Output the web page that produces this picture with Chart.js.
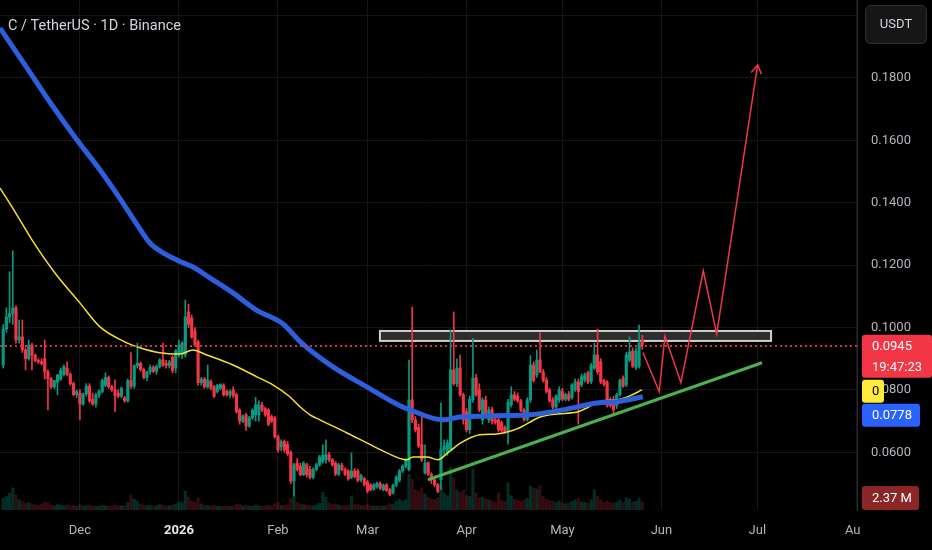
<!DOCTYPE html>
<html>
<head>
<meta charset="utf-8">
<title>C / TetherUS · 1D · Binance</title>
<script src="https://cdn.jsdelivr.net/npm/chart.js@4.4.1/dist/chart.umd.min.js"></script>
<style>
  html, body { margin: 0; padding: 0; background: #000; }
  #wrap { width: 932px; height: 550px; }
</style>
</head>
<body>
<div id="wrap"><canvas id="priceChart" width="932" height="550"></canvas></div>
<script>
// x values are days counted from 1 Dec 2025; first candle is 7 Nov 2025
const firstDay = -24;

const opens = [
  .0880, .0995, .1034, .1045, .1063, .0960, .0970, .0928, .0900, .0944,
  .0912, .0894, .0890, .0900, .0858, .0835, .0810, .0825, .0835, .0850,
  .0870, .0850, .0820, .0785, .0790, .0755, .0787, .0812, .0770, .0755,
  .0784, .0795, .0815, .0840, .0810, .0800, .0790, .0780, .0775, .0765,
  .0830, .0812, .0878, .0885, .0865, .0840, .0858, .0872, .0860, .0875,
  .0896, .0885, .0878, .0905, .0870, .0912, .0915, .0912, .1050, .1030,
  .0990, .0954, .0823, .0835, .0810, .0826, .0810, .0795, .0805, .0815,
  .0795, .0784, .0800, .0785, .0735, .0700, .0720, .0684, .0710, .0720,
  .0720, .0752, .0740, .0736, .0715, .0710, .0650, .0618, .0634, .0625,
  .0600, .0508, .0565, .0556, .0528, .0560, .0545, .0520, .0545, .0560,
  .0570, .0576, .0592, .0576, .0565, .0530, .0558, .0545, .0540, .0520,
  .0540, .0540, .0512, .0515, .0505, .0495, .0482, .0490, .0500, .0480,
  .0495, .0480, .0470, .0495, .0510, .0540, .0555, .0545, .0768, .0704,
  .0680, .0625, .0534, .0566, .0530, .0512, .0496, .0512, .0608, .0600,
  .0610, .0864, .0820, .0870, .0784, .0730, .0672, .0768, .0838, .0800,
  .0704, .0768, .0704, .0736, .0704, .0704, .0695, .0680, .0664, .0752,
  .0784, .0780, .0765, .0735, .0705, .0768, .0880, .0848, .0896, .0858,
  .0832, .0800, .0768, .0745, .0768, .0795, .0770, .0785, .0775, .0800,
  .0826, .0816, .0832, .0855, .0826, .0870, .0912, .0890, .0830, .0825,
  .0768, .0770, .0750, .0785, .0838, .0816, .0896, .0925, .0872, .0876,
  .0960
];
const highs = [
  .1010, .1063, .1179, .1246, .1070, .1024, .1024, .0935, .0960, .0950,
  .0915, .0900, .0900, .0960, .0865, .0840, .0830, .0850, .0870, .0880,
  .0890, .0855, .0825, .0800, .0800, .0790, .0820, .0820, .0790, .0790,
  .0800, .0835, .0855, .0845, .0815, .0832, .0800, .0810, .0780, .0835,
  .0920, .0880, .0950, .0890, .0870, .0860, .0880, .0878, .0880, .0900,
  .0950, .0895, .0895, .0910, .0930, .0960, .0955, .1088, .1075, .1040,
  .1000, .0960, .0840, .0840, .0880, .0832, .0815, .0818, .0820, .0820,
  .0800, .0800, .0810, .0790, .0740, .0720, .0725, .0715, .0740, .0776,
  .0765, .0760, .0745, .0740, .0720, .0715, .0655, .0640, .0640, .0635,
  .0605, .0565, .0580, .0565, .0570, .0565, .0555, .0550, .0565, .0590,
  .0624, .0640, .0600, .0580, .0570, .0565, .0565, .0550, .0545, .0598,
  .0548, .0545, .0530, .0520, .0510, .0500, .0500, .0505, .0505, .0498,
  .0500, .0485, .0498, .0525, .0545, .0560, .0580, .0896, .1066, .0715,
  .0690, .0720, .0624, .0570, .0535, .0520, .0500, .0758, .0640, .0640,
  .0992, .1050, .0900, .0912, .0790, .0740, .0780, .0965, .0850, .0820,
  .0775, .0780, .0745, .0745, .0710, .0712, .0700, .0685, .0770, .0810,
  .0795, .0790, .0770, .0740, .0775, .0910, .0890, .0928, .0983, .0865,
  .0840, .0805, .0775, .0785, .0810, .0805, .0790, .0795, .0820, .0835,
  .0835, .0850, .0855, .0860, .0885, .0950, .0995, .0900, .0835, .0830,
  .0775, .0780, .0790, .0835, .0845, .0920, .0970, .0935, .0935, .1008,
  .0975
];
const lows = [
  .0870, .0985, .1015, .1010, .0950, .0950, .0920, .0864, .0895, .0864,
  .0890, .0885, .0880, .0835, .0736, .0805, .0805, .0784, .0830, .0845,
  .0845, .0815, .0780, .0775, .0704, .0750, .0780, .0760, .0750, .0745,
  .0775, .0790, .0810, .0805, .0795, .0730, .0775, .0775, .0760, .0760,
  .0805, .0805, .0870, .0860, .0835, .0830, .0850, .0855, .0850, .0870,
  .0875, .0870, .0870, .0855, .0855, .0905, .0900, .0905, .1000, .0965,
  .0940, .0815, .0815, .0805, .0805, .0800, .0775, .0790, .0800, .0780,
  .0780, .0775, .0775, .0725, .0690, .0695, .0670, .0680, .0705, .0700,
  .0700, .0730, .0715, .0685, .0695, .0645, .0600, .0605, .0600, .0590,
  .0500, .0460, .0540, .0525, .0525, .0520, .0515, .0515, .0540, .0555,
  .0565, .0565, .0570, .0555, .0525, .0525, .0540, .0525, .0510, .0515,
  .0518, .0505, .0505, .0492, .0470, .0476, .0478, .0485, .0480, .0476,
  .0474, .0460, .0466, .0490, .0505, .0535, .0550, .0540, .0695, .0665,
  .0615, .0570, .0530, .0525, .0500, .0490, .0470, .0480, .0590, .0590,
  .0605, .0815, .0810, .0780, .0690, .0665, .0660, .0760, .0780, .0730,
  .0690, .0710, .0695, .0690, .0690, .0665, .0665, .0660, .0626, .0745,
  .0765, .0760, .0730, .0700, .0700, .0760, .0825, .0840, .0855, .0825,
  .0790, .0760, .0740, .0740, .0760, .0765, .0765, .0765, .0770, .0795,
  .0690, .0810, .0825, .0820, .0820, .0865, .0850, .0820, .0812, .0745,
  .0745, .0720, .0740, .0780, .0808, .0810, .0890, .0872, .0865, .0870,
  .0930
];
const closes = [
  .0995, .1034, .1045, .1063, .0960, .0970, .0928, .0900, .0944, .0912,
  .0894, .0890, .0885, .0858, .0835, .0810, .0830, .0848, .0862, .0875,
  .0850, .0820, .0785, .0795, .0755, .0787, .0812, .0765, .0755, .0784,
  .0795, .0830, .0840, .0810, .0800, .0782, .0780, .0805, .0765, .0830,
  .0812, .0878, .0885, .0865, .0840, .0858, .0872, .0860, .0875, .0896,
  .0880, .0878, .0890, .0862, .0925, .0944, .0950, .1034, .1010, .0970,
  .0944, .0823, .0835, .0810, .0832, .0806, .0780, .0815, .0818, .0785,
  .0784, .0795, .0782, .0730, .0700, .0716, .0684, .0710, .0735, .0752,
  .0752, .0736, .0720, .0690, .0700, .0650, .0608, .0634, .0608, .0595,
  .0508, .0560, .0545, .0528, .0565, .0528, .0520, .0545, .0560, .0585,
  .0590, .0592, .0576, .0560, .0530, .0560, .0545, .0530, .0515, .0540,
  .0522, .0510, .0526, .0497, .0475, .0480, .0496, .0500, .0485, .0495,
  .0478, .0465, .0495, .0520, .0540, .0555, .0575, .0768, .0704, .0672,
  .0620, .0576, .0566, .0530, .0512, .0496, .0475, .0608, .0620, .0630,
  .0864, .0820, .0870, .0784, .0704, .0672, .0770, .0838, .0785, .0736,
  .0768, .0715, .0736, .0700, .0695, .0672, .0670, .0664, .0760, .0784,
  .0770, .0765, .0735, .0705, .0768, .0880, .0830, .0896, .0858, .0830,
  .0795, .0765, .0745, .0780, .0800, .0770, .0785, .0770, .0816, .0826,
  .0795, .0842, .0848, .0826, .0878, .0912, .0858, .0826, .0818, .0750,
  .0750, .0736, .0785, .0830, .0812, .0912, .0922, .0876, .0925, .0950,
  .0945
];
// volume in millions
const volumes = [
  3.5, 4.0, 5.0, 6.5, 4.5, 3.0, 2.5, 2.0, 2.2, 1.8,
  1.5, 1.4, 1.6, 2.4, 2.2, 1.5, 1.2, 1.6, 1.4, 1.3,
  1.5, 1.2, 1.4, 1.1, 1.6, 1.2, 1.3, 1.5, 1.2, 1.1,
  1.2, 1.4, 1.3, 1.2, 1.1, 1.5, 1.2, 1.3, 1.2, 2.2,
  4.5, 3.2, 2.6, 1.8, 1.5, 1.3, 1.4, 1.2, 1.3, 1.6,
  1.4, 1.2, 1.3, 1.5, 1.8, 2.4, 2.2, 5.5, 3.8, 2.6,
  2.2, 3.5, 1.8, 1.4, 1.3, 1.2, 1.4, 1.1, 1.0, 1.2,
  1.1, 1.0, 1.2, 1.8, 1.6, 1.2, 1.4, 1.2, 1.1, 1.5,
  1.3, 1.1, 1.2, 1.4, 1.2, 1.8, 2.2, 1.4, 1.5, 1.6,
  3.5, 4.2, 2.2, 1.8, 1.6, 1.5, 1.4, 1.3, 1.5, 2.0,
  5.2, 3.8, 2.0, 1.6, 1.8, 1.5, 1.3, 1.2, 1.5, 4.0,
  1.8, 1.6, 1.3, 1.4, 1.8, 1.3, 1.2, 1.1, 1.3, 1.2,
  1.4, 1.8, 1.6, 2.5, 3.2, 2.6, 3.0, 10.5, 9.0, 6.0,
  5.5, 6.5, 4.8, 3.8, 3.2, 3.0, 3.6, 8.0, 5.0, 4.2,
  12.5, 9.5, 6.0, 5.2, 5.8, 4.2, 4.0, 12.0, 5.0, 3.5,
  3.8, 3.2, 3.0, 2.6, 2.2, 5.0, 2.8, 2.5, 8.0, 4.2,
  3.2, 2.8, 2.6, 3.0, 3.4, 7.0, 6.5, 6.2, 7.2, 4.0,
  3.2, 2.8, 2.5, 2.2, 2.6, 2.0, 1.8, 2.2, 2.6, 3.0,
  3.4, 2.4, 2.2, 2.0, 3.0, 6.0, 4.0, 3.0, 2.2, 2.6,
  2.2, 2.0, 2.4, 3.0, 2.2, 3.6, 3.2, 2.4, 2.6, 3.4,
  2.37
];

// moving averages as [day, price]
const slowMa = [
  [-25.0, .1960], [-17.2, .1842], [-9.4, .1723], [-1.6, .1611], [6.3, .1505],
  [12.5, .1414], [18.0, .1328], [22.0, .1270], [26.6, .1236], [31.3, .1212],
  [35.4, .1194], [40.7, .1159], [47.9, .1111], [55.4, .1055], [63.5, .1012],
  [68.9, .0955], [79.2, .0874], [89.8, .0810], [100.2, .0749], [103.3, .0736],
  [113.6, .0704], [118.9, .0713], [130.5, .0717], [140.8, .0720], [151.2, .0736],
  [161.8, .0758], [168.1, .0762], [176.2, .0778]
];
const fastMa = [
  [-25.0, .1447], [-20.3, .1371], [-15.0, .1281], [-7.8, .1175], [0, .1079],
  [6.3, .1002], [14.7, .0951], [18.8, .0935], [25.0, .0919], [31.3, .0915],
  [35.4, .0928], [39.7, .0912], [47.9, .0880], [55.4, .0842], [60.4, .0816],
  [65.7, .0778], [68.9, .0746], [72.0, .0720], [75.1, .0704], [83.6, .0662],
  [89.8, .0630], [96.1, .0598], [102.3, .0576], [104.2, .0585], [108.6, .0585],
  [112.0, .0576], [115.1, .0598], [119.2, .0630], [125.2, .0656], [130.5, .0659],
  [136.8, .0675], [144.0, .0713], [149.3, .0723], [155.6, .0729], [160.6, .0752],
  [163.7, .0765], [168.1, .0768], [172.1, .0781], [175.9, .0800]
];

// drawings
const trendLine = [[108.9, .0512], [213.5, .0887]];
const projection = [
  [176.2, .0920], [181.3, .0795], [183.1, .0973], [188.1, .0823],
  [195.1, .1182], [199.3, .0979], [212.1, .1842]
];
const zoneDays = [93.9, 216.3];
const zonePrices = [.0957, .0989];

// axes
const monthDays = [0, 31, 62, 90, 121, 151, 182, 212, 243];
const monthLabels = ['Dec', '2026', 'Feb', 'Mar', 'Apr', 'May', 'Jun', 'Jul', 'Aug'];
const priceTicks = [.06, .08, .10, .12, .14, .16, .18, .20];

const title = 'C / TetherUS · 1D · Binance';
const currency = 'USDT';
const countdown = '19:47:23';
const fastLabel = '0';

const UP = '#089981';
const DOWN = '#f23645';

const candleColors = closes.map((c, i) => (c >= opens[i] ? UP : DOWN));
const volumeColors = closes.map((c, i) =>
  c >= opens[i] ? 'rgba(8,153,129,0.30)' : 'rgba(242,54,69,0.22)'
);
const toPoints = (arr) => arr.map((p) => ({ x: p[0], y: p[1] }));

function badge(ctx, x, y, w, h, color, lines, textColor) {
  ctx.fillStyle = color;
  ctx.beginPath();
  ctx.roundRect(x, y, w, h, 3);
  ctx.fill();
  ctx.fillStyle = textColor;
  ctx.textBaseline = 'middle';
  ctx.textAlign = 'left';
  const step = h / lines.length;
  lines.forEach((t, i) => ctx.fillText(t, x + 10, y + step * i + step / 2 + 1));
}

const overlay = {
  id: 'overlay',
  beforeDatasetsDraw(chart) {
    const { ctx, scales: { x, y } } = chart;
    const x0 = x.getPixelForValue(zoneDays[0]);
    const x1 = x.getPixelForValue(zoneDays[1]);
    const y0 = y.getPixelForValue(zonePrices[1]);
    const y1 = y.getPixelForValue(zonePrices[0]);
    ctx.save();
    ctx.fillStyle = '#2e2e2e';
    ctx.fillRect(x0, y0, x1 - x0, y1 - y0);
    ctx.strokeStyle = '#cfcfcf';
    ctx.lineWidth = 2;
    ctx.strokeRect(x0, y0, x1 - x0, y1 - y0);
    ctx.restore();
  },
  afterDatasetsDraw(chart) {
    const { ctx, chartArea: a, scales: { x, y } } = chart;
    const last = closes[closes.length - 1];
    ctx.save();
    // last price line
    const py = Math.round(y.getPixelForValue(last));
    ctx.fillStyle = '#d8323f';
    for (let px = a.left; px < a.right; px += 5) {
      ctx.fillRect(px, py, 2, 2);
    }
    // arrow head on projection
    const p1 = projection[projection.length - 2];
    const p2 = projection[projection.length - 1];
    const ax = x.getPixelForValue(p2[0]), ay = y.getPixelForValue(p2[1]);
    const bx = x.getPixelForValue(p1[0]), by = y.getPixelForValue(p1[1]);
    const ang = Math.atan2(ay - by, ax - bx);
    ctx.strokeStyle = DOWN;
    ctx.lineWidth = 1.5;
    ctx.beginPath();
    ctx.moveTo(ax - 10 * Math.cos(ang - 0.55), ay - 10 * Math.sin(ang - 0.55));
    ctx.lineTo(ax, ay);
    ctx.lineTo(ax - 10 * Math.cos(ang + 0.55), ay - 10 * Math.sin(ang + 0.55));
    ctx.stroke();
    ctx.restore();
  },
  afterDraw(chart) {
    const { ctx, chartArea: a, scales: { y } } = chart;
    ctx.save();
    // clip the last month label at the price scale
    ctx.fillStyle = '#000';
    ctx.fillRect(a.right + 3, a.bottom + 1, chart.width - a.right, chart.height - a.bottom);

    ctx.font = '14.5px Roboto';
    ctx.fillStyle = '#d1d4dc';
    ctx.textBaseline = 'alphabetic';
    ctx.fillText(title, 8, 30);

    // currency box
    ctx.fillStyle = '#161616';
    ctx.strokeStyle = '#2e2e2e';
    ctx.lineWidth = 1;
    ctx.beginPath();
    ctx.roundRect(a.right + 8.5, 5.5, 61, 38, 5);
    ctx.fill();
    ctx.stroke();
    ctx.font = '13px Roboto';
    ctx.fillStyle = '#d1d4dc';
    ctx.textAlign = 'center';
    ctx.textBaseline = 'middle';
    ctx.fillText(currency, a.right + 39, 25);

    // price scale labels
    ctx.font = '13px Roboto';
    const bx = a.right + 5;
    const last = closes[closes.length - 1];
    const redTop = y.getPixelForValue(last) - 10;
    badge(ctx, bx, redTop, chart.width - bx, 43, DOWN, [last.toFixed(4), countdown], '#ffffff');
    badge(ctx, bx, redTop + 45, 22, 23, '#ffeb3b', [fastLabel], '#000000');
    const slowLast = slowMa[slowMa.length - 1][1];
    badge(ctx, bx, redTop + 69, 58, 23, '#2962ff', [slowLast.toFixed(4)], '#ffffff');
    const vol = volumes[volumes.length - 1];
    badge(ctx, bx, a.bottom - 24, 57, 24, '#8c2626', [vol.toFixed(2) + ' M'], '#ffffff');
    ctx.restore();
  }
};

new Chart(document.getElementById('priceChart'), {
  type: 'bar',
  data: {
    datasets: [
      {
        label: 'Volume',
        yAxisID: 'yv',
        data: volumes.map((v, i) => ({ x: firstDay + i, y: v })),
        backgroundColor: volumeColors,
        barThickness: 2.4,
        grouped: false,
        order: 6
      },
      {
        label: 'Wicks',
        data: highs.map((h, i) => ({ x: firstDay + i, y: [lows[i], h] })),
        backgroundColor: candleColors,
        barThickness: 1,
        grouped: false,
        order: 5
      },
      {
        label: 'Bodies',
        data: opens.map((o, i) => ({ x: firstDay + i, y: [o, closes[i]] })),
        backgroundColor: candleColors,
        barThickness: 2.5,
        minBarLength: 1,
        grouped: false,
        order: 4
      },
      {
        type: 'line',
        label: 'MA fast',
        data: toPoints(fastMa),
        borderColor: '#f5e12e',
        borderWidth: 1.5,
        pointRadius: 0,
        cubicInterpolationMode: 'monotone',
        order: 3
      },
      {
        type: 'line',
        label: 'MA slow',
        data: toPoints(slowMa),
        borderColor: '#2d5fdc',
        borderWidth: 5,
        pointRadius: 0,
        cubicInterpolationMode: 'monotone',
        order: 2
      },
      {
        type: 'line',
        label: 'Trend',
        data: toPoints(trendLine),
        borderColor: '#4caf50',
        borderWidth: 3,
        pointRadius: 0,
        order: 1
      },
      {
        type: 'line',
        label: 'Projection',
        data: toPoints(projection),
        borderColor: DOWN,
        borderWidth: 1.5,
        pointRadius: 0,
        order: 0
      }
    ]
  },
  options: {
    responsive: false,
    animation: false,
    events: [],
    layout: { padding: 0 },
    plugins: {
      legend: { display: false },
      tooltip: { enabled: false }
    },
    scales: {
      x: {
        type: 'linear',
        min: -25,
        max: 243.2,
        offset: false,
        afterBuildTicks: (s) => { s.ticks = monthDays.map((v) => ({ value: v })); },
        afterFit: (s) => {
          s.height = 40;
          s.paddingLeft = 0;
          s.paddingRight = 0;
        },
        grid: { color: '#161616', drawTicks: false, offset: false },
        border: { display: false },
        ticks: {
          padding: 13,
          maxRotation: 0,
          autoSkip: false,
          callback: (v) => monthLabels[monthDays.indexOf(v)],
          color: (c) => (c.tick && c.tick.label === '2026' ? '#e6e8ee' : '#b2b5be'),
          font: (c) => ({
            family: 'Roboto',
            size: 13,
            weight: c.tick && c.tick.label === '2026' ? 'bold' : 'normal'
          })
        }
      },
      y: {
        position: 'right',
        min: 0.0415,
        max: 0.205,
        afterBuildTicks: (s) => { s.ticks = priceTicks.map((v) => ({ value: v })); },
        afterFit: (s) => {
          s.width = 75;
          s.paddingTop = 0;
          s.paddingBottom = 0;
        },
        grid: { color: '#161616', drawTicks: false },
        border: { color: '#2a2a2a' },
        ticks: {
          padding: 14,
          color: '#b2b5be',
          font: { family: 'Roboto', size: 13 },
          callback: (v) => v.toFixed(4)
        }
      },
      yv: {
        display: false,
        min: 0,
        max: 150
      }
    }
  },
  plugins: [overlay]
});
</script>
</body>
</html>
